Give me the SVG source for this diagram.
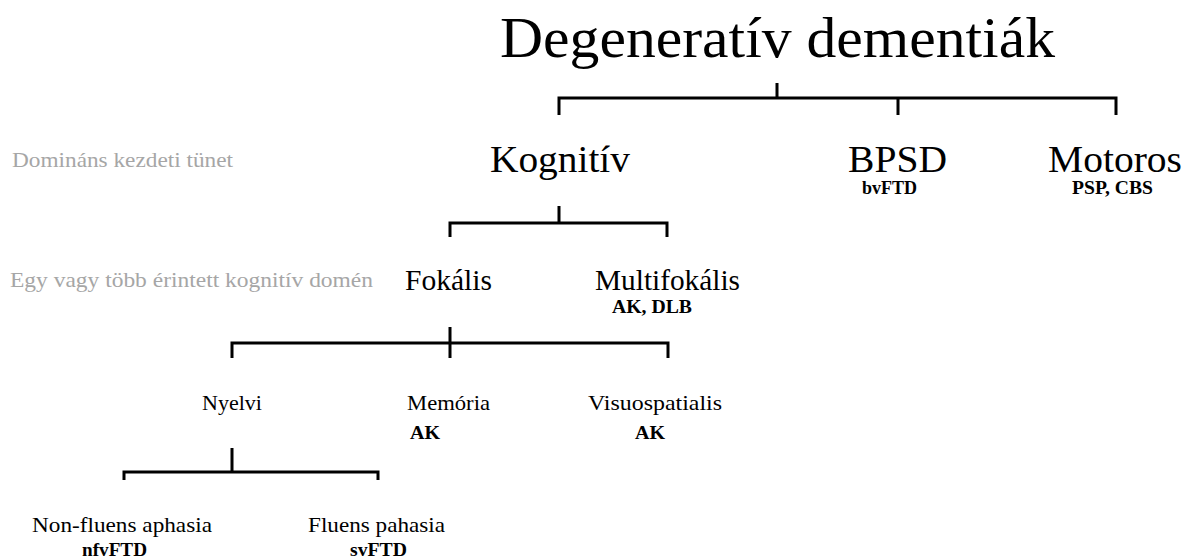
<svg xmlns="http://www.w3.org/2000/svg" width="1187" height="558" viewBox="0 0 1187 558" font-family="Liberation Serif, Times New Roman, Times, serif">
<style>
text{font-family:'Liberation Serif','Times New Roman',Times,serif;fill:#000}
.t{font-size:58px}
.l1{font-size:38px}
.l2{font-size:30px}
.l3{font-size:22px}
.s{font-size:18px;font-weight:bold}
.g{font-size:21px;fill:#a6a6a6}
.c{fill:none;stroke:#000;stroke-width:3;stroke-linecap:butt;stroke-linejoin:miter}
</style>
<rect width="1187" height="558" fill="#fff"/>
<g id="connectors">
<path class="c" d="M559,115V98H1116V115M777,83V98M898,98V115"/>
<path class="c" d="M450,237V223H667V237M559,206V223"/>
<path class="c" d="M232,358V343H668V358M450,327V358"/>
<path class="c" d="M124,480V472H378V480M232,448V472"/>
</g>
<g id="labels">
<text class="g" x="12" y="167" textLength="221" lengthAdjust="spacingAndGlyphs">Domináns kezdeti tünet</text>
<text class="g" x="10" y="287" textLength="363" lengthAdjust="spacingAndGlyphs">Egy vagy több érintett kognitív domén</text>
</g>
<g id="root"><text class="t" x="500" y="57" textLength="555" lengthAdjust="spacingAndGlyphs">Degeneratív dementiák</text></g>
<g id="kognitiv"><text class="l1" x="490" y="172" textLength="140" lengthAdjust="spacingAndGlyphs">Kognitív</text></g>
<g id="bpsd"><text class="l1" x="848" y="172" textLength="99" lengthAdjust="spacingAndGlyphs">BPSD</text><text class="s" x="862" y="194" textLength="55" lengthAdjust="spacingAndGlyphs">bvFTD</text></g>
<g id="motoros"><text class="l1" x="1048" y="172" textLength="134" lengthAdjust="spacingAndGlyphs">Motoros</text><text class="s" x="1072" y="194" textLength="81" lengthAdjust="spacingAndGlyphs">PSP, CBS</text></g>
<g id="fokalis"><text class="l2" x="405" y="290" textLength="87" lengthAdjust="spacingAndGlyphs">Fokális</text></g>
<g id="multifokalis"><text class="l2" x="595" y="290" textLength="145" lengthAdjust="spacingAndGlyphs">Multifokális</text><text class="s" x="612" y="313" textLength="80" lengthAdjust="spacingAndGlyphs">AK, DLB</text></g>
<g id="nyelvi"><text class="l3" x="202" y="410" textLength="60" lengthAdjust="spacingAndGlyphs">Nyelvi</text></g>
<g id="memoria"><text class="l3" x="407" y="410" textLength="83" lengthAdjust="spacingAndGlyphs">Memória</text><text class="s" x="410" y="439" textLength="30" lengthAdjust="spacingAndGlyphs">AK</text></g>
<g id="visuospatialis"><text class="l3" x="588" y="410" textLength="134" lengthAdjust="spacingAndGlyphs">Visuospatialis</text><text class="s" x="635" y="439" textLength="30" lengthAdjust="spacingAndGlyphs">AK</text></g>
<g id="nonfluens"><text class="l3" x="32" y="532" textLength="180" lengthAdjust="spacingAndGlyphs">Non-fluens aphasia</text><text class="s" x="82" y="556" textLength="65" lengthAdjust="spacingAndGlyphs">nfvFTD</text></g>
<g id="fluens"><text class="l3" x="308" y="532" textLength="137" lengthAdjust="spacingAndGlyphs">Fluens pahasia</text><text class="s" x="350" y="556" textLength="57" lengthAdjust="spacingAndGlyphs">svFTD</text></g>
</svg>
